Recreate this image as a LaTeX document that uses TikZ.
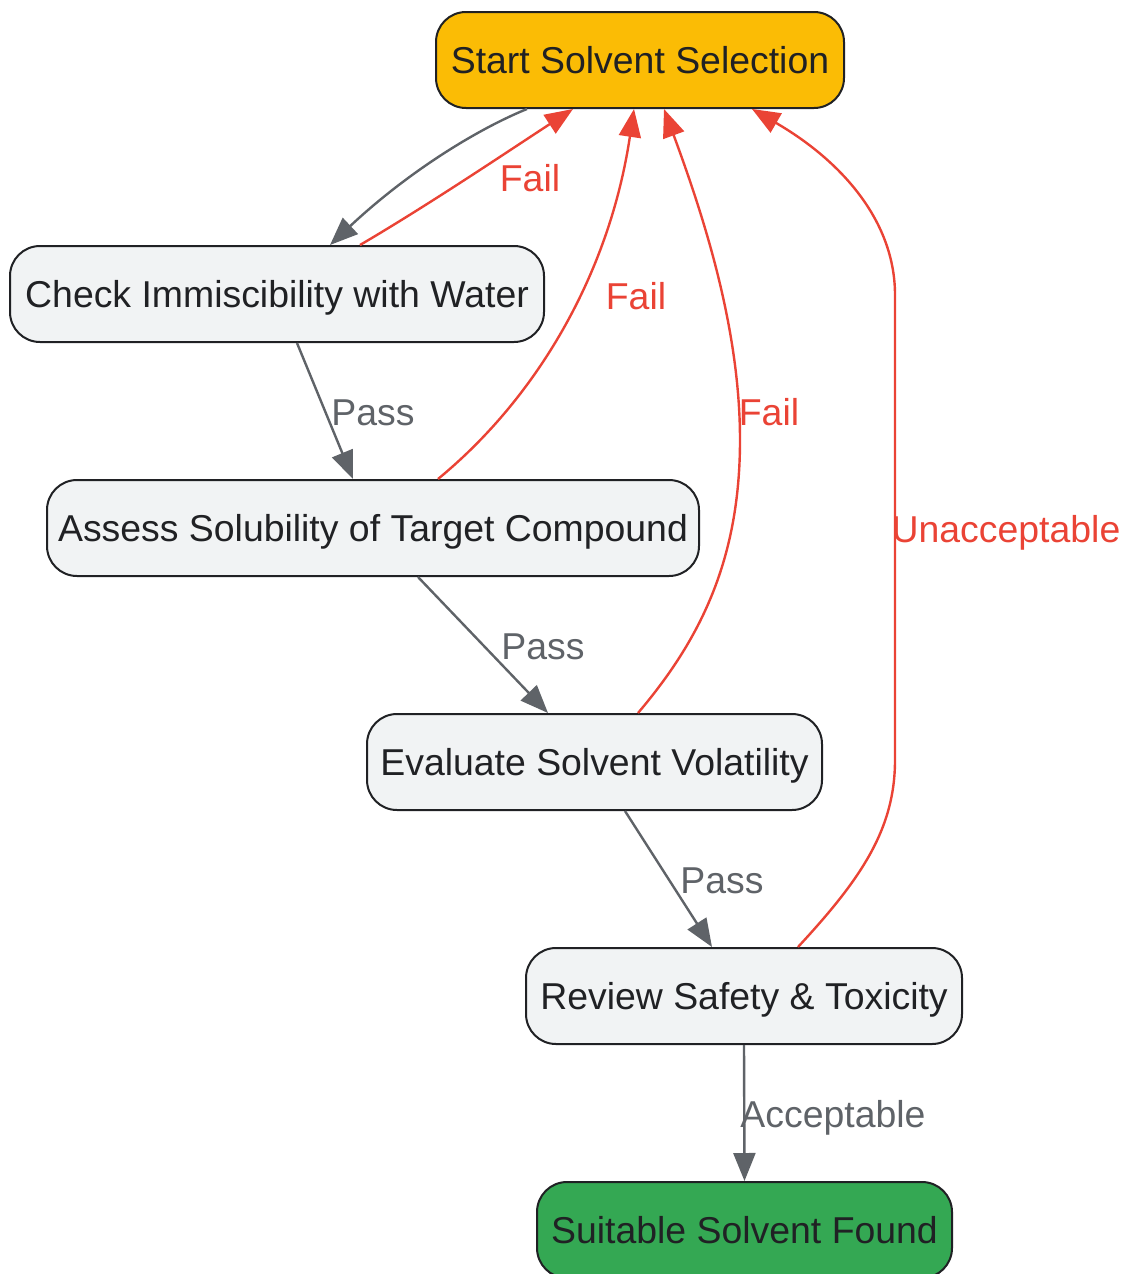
\documentclass[tikz,border=0pt]{standalone}
\usepackage{fontspec}
\setmainfont{Liberation Sans}
\usetikzlibrary{arrows.meta,calc}
\definecolor{gline}{HTML}{5F6368}
\definecolor{rline}{HTML}{EA4335}
\definecolor{ystart}{HTML}{FBBC05}
\definecolor{gend}{HTML}{34A853}
\definecolor{nfill}{HTML}{F1F3F4}
\definecolor{nborder}{HTML}{202124}
\tikzset{
  box/.style={draw=nborder, line width=1pt, rounded corners=15pt, fill=nfill,
    minimum height=48pt, inner sep=0pt, text=nborder, text height=13.5pt, text depth=0pt,
    font=\fontsize{18.7}{22}\selectfont},
  okedge/.style={draw=gline, line width=1.2pt, -{Triangle[length=14pt,width=11pt]}},
  failedge/.style={draw=rline, line width=1.2pt, -{Triangle[length=14pt,width=11pt]}},
  oklab/.style={text=gline, font=\fontsize{18.7}{22}\selectfont, inner sep=0pt, text height=13.5pt, text depth=0pt},
  faillab/.style={text=rline, font=\fontsize{18.7}{22}\selectfont, inner sep=0pt, text height=13.5pt, text depth=0pt}
}
\begin{document}
\begin{tikzpicture}[x=0.5pt,y=-0.5pt]
\useasboundingbox (0,0) rectangle (1122,1274);
\clip (0,0) rectangle (1122,1274);
\node[box, fill=ystart, minimum width=204pt] (start) at (640,60) {Start Solvent Selection};
\node[box, minimum width=267pt] (check) at (277,294) {Check Immiscibility with Water};
\node[box, minimum width=326pt] (assess) at (373,528) {Assess Solubility of Target Compound};
\node[box, minimum width=227.5pt] (eval) at (594.5,762) {Evaluate Solvent Volatility};
\node[box, minimum width=218pt] (review) at (744,996) {Review Safety \& Toxicity};
\node[box, fill=gend, minimum width=207.5pt] (found) at (744.5,1230) {Suitable Solvent Found};

% start -> check
\draw[okedge] ($(start.south)+(-113,0)$) .. controls (480,128) and (410,170) .. ($(check.north)+(53,0)$);
% check -> start fail
\draw[failedge] ($(check.north)+(83,0)$) .. controls (430,204) and (510,150) .. ($(start.south)+(-67,0)$);
\node[faillab] (l1) at (530,178) {Fail};
% check -> assess
\draw[okedge] ($(check.south)+(20,0)$) -- ($(assess.north)+(-20,0)$);
\node[oklab] (l2) at (373,412) {Pass};
% assess -> start fail
\draw[failedge] ($(assess.north)+(65,0)$) .. controls (540,395) and (610,270) .. ($(start.south)+(-6,0)$);
\node[faillab] (l3) at (636,296) {Fail};
% assess -> eval
\draw[okedge] ($(assess.south)+(45,0)$) -- ($(eval.north)+(-46.5,0)$);
\node[oklab] (l4) at (543,646) {Pass};
% eval -> start fail
\draw[failedge] ($(eval.north)+(43.5,0)$) .. controls (700,640) and (740,560) .. (740,440)
   .. controls (740,330) and (705,220) .. ($(start.south)+(24,0)$);
\node[faillab] (l5) at (769,412) {Fail};
% eval -> review
\draw[okedge] ($(eval.south)+(30.5,0)$) -- ($(review.north)+(-32,0)$);
\node[oklab] (l6) at (722,880) {Pass};
% review -> start unacceptable
\draw[failedge] ($(review.north)+(54,0)$) .. controls (860,880) and (895,830) .. (895,760)
   -- (895,295) .. controls (895,220) and (840,160) .. ($(start.south)+(112,0)$);
\node[faillab] (l7) at (1006,529) {Unacceptable};
% review -> found
\draw[okedge] (review.south) -- (found.north);
\node[oklab] (l8) at (833,1114) {Acceptable};
\end{tikzpicture}
\end{document}
